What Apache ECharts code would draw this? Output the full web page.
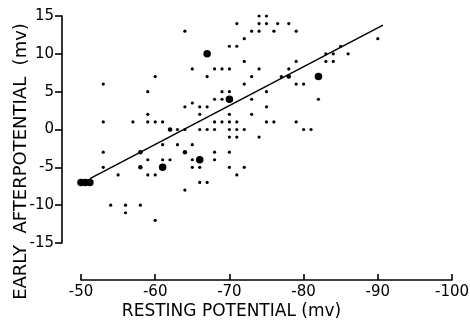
<!DOCTYPE html>
<html>
<head>
<meta charset="utf-8">
<script src="https://cdn.jsdelivr.net/npm/echarts@6/dist/echarts.min.js"></script>
<style>html,body{margin:0;padding:0;background:#fff}#c{width:470px;height:320px}</style>
</head>
<body>
<div id="c"></div>
<script>
// Resting potential (mv) vs early afterpotential (mv)
const smallPoints = [
  [-53,6],[-53,1],[-53,-3],[-57,1],[-59,5],[-59,2],[-59,1],[-60,7],[-60,1],
  [-53,-5],[-55,-6],[-59,-4],[-59,-6],[-60,-6],[-54,-10],[-56,-10],[-56,-11],[-58,-10],[-60,-12],
  [-79,16],[-74,15],[-75,15],[-64,13],[-71,14],[-74,14],[-75,14],[-76.5,14],[-78,14],
  [-73,13],[-74,13],[-76,13],[-79,13],[-72,12],[-70,11],[-71,11],[-72,9],[-79,9],
  [-65,8],[-68,8],[-69,8],[-70,8],[-74,8],[-78,8],[-67,7],[-73,7],[-77,7],[-78,7],
  [-72,6],[-79,6],[-80,6],[-69,5],[-70,5],[-75,5],[-68,4],[-69,4],[-73,4],
  [-65,3.5],[-64,3],[-66,3],[-67,3],[-75,3],[-66,2],[-70,2],[-73,2],
  [-61,1],[-68,1],[-69,1],[-70,1],[-71,1],[-75,1],[-76,1],[-79,1],
  [-63,0],[-64,0],[-66,0],[-67,0],[-68,0],[-70,0],[-71,0],[-72,0],[-80,0],[-81,0],
  [-70,-1],[-71,-1],[-74,-1],[-61,-2],[-63,-2],[-65,-2],[-68,-3],[-70,-3],
  [-61,-4],[-62,-4],[-68,-4],[-65,-4],[-65,-5],[-66,-5],[-70,-5],[-72,-5],[-71,-6],
  [-66,-7],[-67,-7],[-64,-8],
  [-85,11],[-83,10],[-84,10],[-86,10],[-90,12],[-83,9],[-84,9],[-82,4]
];
const mediumPoints = [[-58,-5],[-62,0],[-64,-3],[-78,7],[-58,-3]];
const largePoints = [[-50,-7],[-50.6,-7],[-51.2,-7],[-61,-5],[-66,-4],[-67,10],[-70,4],[-82,7]];
const fitLine = [[-51.2,-6.5],[-90.7,13.8]];
const xTicks = [-50,-60,-70,-80,-90,-100];
const yTicks = [-15,-10,-5,0,5,10,15];

const font = 'DejaVu Sans';
const chart = echarts.init(document.getElementById('c'), null, {renderer:'canvas'});
chart.setOption({
  animation:false,
  backgroundColor:'#fff',
  grid:{left:81,right:18,top:16,bottom:77,containLabel:false,outerBoundsMode:'none'},
  xAxis:{
    type:'value', min:-100, max:-50, interval:10, inverse:true, offset:37,
    name:'RESTING POTENTIAL (mv)', nameLocation:'middle', nameGap:23, nameMoveOverlap:false,
    nameTextStyle:{fontFamily:font,fontSize:17,color:'#000',padding:[0,70,0,0]},
    axisLine:{onZero:false,lineStyle:{color:'#000',width:1.6}},
    axisTick:{inside:true,length:6,lineStyle:{color:'#000',width:1.6}},
    axisLabel:{margin:5,fontFamily:font,fontSize:15,color:'#000',
      formatter:v=>xTicks.includes(v)?String(v):''},
    splitLine:{show:false}
  },
  yAxis:{
    type:'value', min:-15, max:15, interval:5, offset:19,
    name:'EARLY  AFTERPOTENTIAL  (mv)', nameLocation:'middle', nameGap:32, nameMoveOverlap:false,
    nameTextStyle:{fontFamily:font,fontSize:18,color:'#000',padding:[0,64,0,0]},
    axisLine:{onZero:false,lineStyle:{color:'#000',width:1.6}},
    axisTick:{length:7,lineStyle:{color:'#000',width:1.6}},
    axisLabel:{margin:8,fontFamily:font,fontSize:15,color:'#000',
      formatter:v=>yTicks.includes(v)?String(v):''},
    splitLine:{show:false}
  },
  series:[
    {type:'line',data:fitLine,symbol:'none',lineStyle:{color:'#000',width:1.5},z:1},
    {type:'scatter',data:smallPoints,symbol:'circle',symbolSize:3.2,itemStyle:{color:'#000',opacity:1},z:2},
    {type:'scatter',data:mediumPoints,symbol:'circle',symbolSize:4.5,itemStyle:{color:'#000',opacity:1},z:2},
    {type:'scatter',data:largePoints,symbol:'circle',symbolSize:7.5,itemStyle:{color:'#000',opacity:1},z:3}
  ]
});
</script>
</body>
</html>
